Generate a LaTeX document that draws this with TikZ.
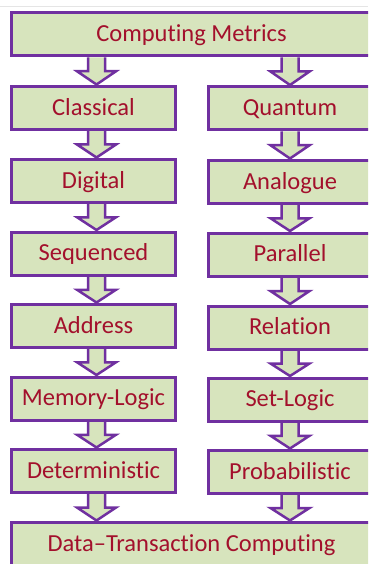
\documentclass[tikz,border=0pt]{standalone}
\usepackage{fontspec}
\setmainfont{Carlito}[Ligatures={NoCommon,NoRequired},Contextuals=NoAlternate]
\usetikzlibrary{calc,backgrounds}
\definecolor{boxfill}{HTML}{D7E4BD}
\definecolor{boxline}{HTML}{7030A0}
\definecolor{boxtext}{HTML}{A3102C}
\tikzset{
  metricbox/.style={draw=boxline, fill=boxfill, line width=3pt,
    minimum width=164pt, minimum height=43pt, inner sep=0pt,
    text height=18.5pt, text depth=4pt,
    text=boxtext, font=\fontsize{24.5}{28}\selectfont},
  widebox/.style={metricbox, minimum width=360pt},
  flowarrow/.style={draw=boxline, fill=boxfill, line width=2.5pt, line join=miter}
}
% block arrow from #2 down to #3, centred on the x of #4 shifted by #1
\newcommand\flowarrow[4][0]{%
  \draw[flowarrow] let \p1=(#2.south), \p2=(#3.north), \p3=([xshift=#1pt]#4.center),
    \p4=($(\p1)!.5!(\p2)$) in
    (\x3-8.5pt,\y1) -- (\x3-8.5pt,\y4) -- (\x3-19.5pt,\y4) -- (\x3,\y2+0.5pt)
    -- (\x3+19.5pt,\y4) -- (\x3+8.5pt,\y4) -- (\x3+8.5pt,\y1);}
\begin{document}
\begin{tikzpicture}[x=1pt,y=-1pt]
  \useasboundingbox (0,0) rectangle (368,564);
  \clip (0,0) rectangle (368,564);
  \draw[black!10, line width=1pt] (0,7) -- (368,7);

  \node[widebox] (top) at (191.5,34.5) {Computing Metrics};

  \node[metricbox] (l1) at (93.5,108)   {Classical};
  \node[metricbox] (l2) at (93.5,181)   {Digital};
  \node[metricbox] (l3) at (93.5,253.5) {Sequenced};
  \node[metricbox] (l4) at (93.5,326)   {Address};
  \node[metricbox] (l5) at (93.5,398.5) {Memory-Logic};
  \node[metricbox] (l6) at (93.5,471)   {Deterministic};

  \node[metricbox] (r1) at (290,108.5) {Quantum};
  \node[metricbox] (r2) at (290,182)   {Analogue};
  \node[metricbox] (r3) at (290,254.5) {Parallel};
  \node[metricbox] (r4) at (290,327.5) {Relation};
  \node[metricbox] (r5) at (290,399.5) {Set-Logic};
  \node[metricbox] (r6) at (290,472)   {Probabilistic};

  \node[widebox] (bottom) at (191.5,544) {Data–Transaction Computing};

  \begin{scope}[on background layer]
    \flowarrow[3]{top}{l1}{l1}
    \flowarrow{top}{r1}{r1}
    \foreach \a/\b in {1/2,2/3,3/4,4/5,5/6}{
      \flowarrow[3]{l\a}{l\b}{l\b}
      \flowarrow{r\a}{r\b}{r\b}
    }
    \flowarrow[3]{l6}{bottom}{l6}
    \flowarrow{r6}{bottom}{r6}
  \end{scope}
\end{tikzpicture}
\end{document}
